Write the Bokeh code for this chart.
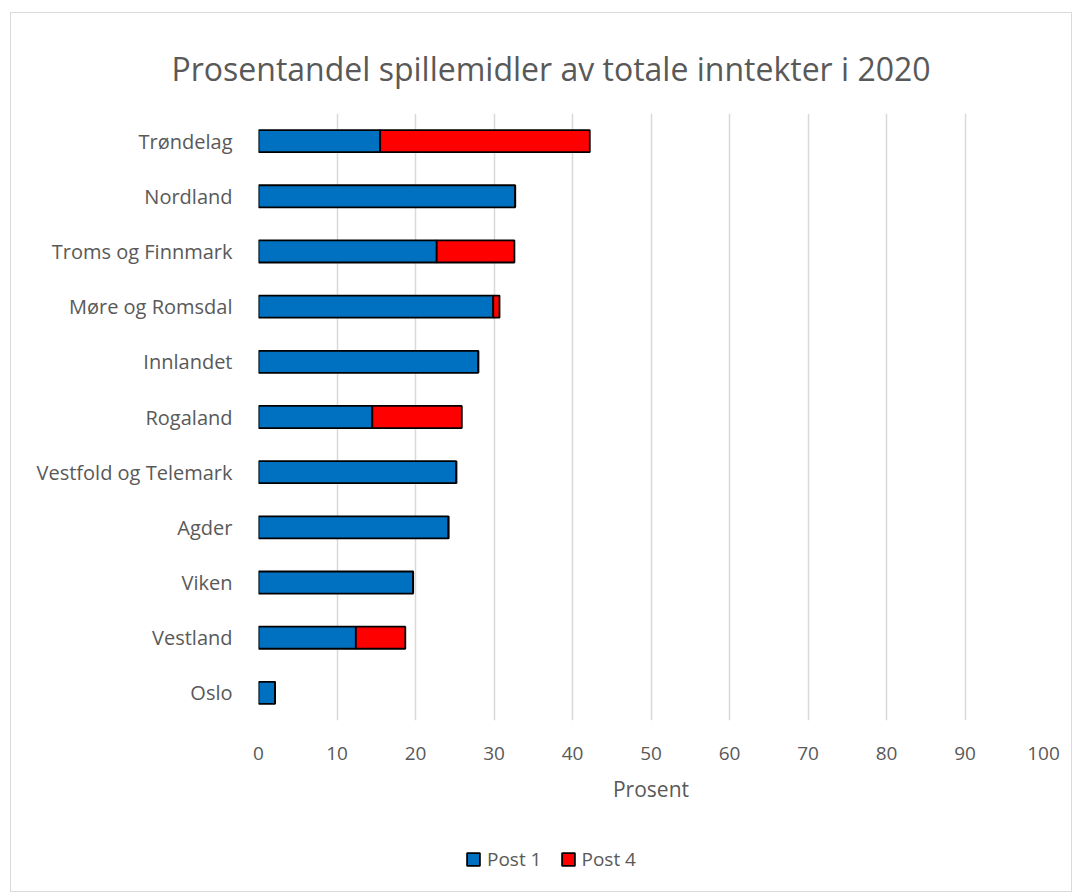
from bokeh.plotting import figure
from bokeh.layouts import column
from bokeh.models import FactorRange, Legend, LegendItem, Range1d, FixedTicker
from bokeh.embed import file_html
from bokeh.resources import INLINE

regions = ["Trøndelag", "Nordland", "Troms og Finnmark", "Møre og Romsdal", "Innlandet",
           "Rogaland", "Vestfold og Telemark", "Agder", "Viken", "Vestland", "Oslo"]
post1 = [15.5, 32.7, 22.7, 29.9, 28.0, 14.5, 25.2, 24.2, 19.7, 12.4, 2.1]
post4 = [26.7, 0.0, 9.9, 0.8, 0.0, 11.4, 0.0, 0.0, 0.0, 6.3, 0.0]
series = ["Post 1", "Post 4"]
colors = ["#0070C0", "#FF0000"]
x_ticks = [0, 10, 20, 30, 40, 50, 60, 70, 80, 90, 100]
title_text = "Prosentandel spillemidler av totale inntekter i 2020"

FONT = "Open Sans"
GREY = "#595959"

data = {"region": regions, "Post 1": post1, "Post 4": post4}

# main chart
p = figure(frame_width=785, frame_height=607, output_backend="svg", toolbar_location=None,
           y_range=FactorRange(factors=list(reversed(regions))),
           x_range=Range1d(0, 100), title=title_text,
           min_border_left=247, min_border_right=28, min_border_top=100, min_border_bottom=0)

p.hbar_stack(series, y="region", height=0.4, source=data,
             fill_color=colors, line_color="black", line_width=1.8)

p.title.align = "left"
p.title.offset = -87
p.title.text_font = FONT
p.title.text_font_size = "32px"
p.title.text_font_style = "normal"
p.title.text_color = GREY
p.title.standoff = 48

p.xaxis.ticker = FixedTicker(ticks=x_ticks)
p.xaxis.axis_label = "Prosent"
p.xaxis.axis_label_text_font = FONT
p.xaxis.axis_label_text_font_size = "21px"
p.xaxis.axis_label_text_font_style = "normal"
p.xaxis.axis_label_text_color = GREY
p.xaxis.axis_label_standoff = 12
for ax in (p.xaxis[0], p.yaxis[0]):
    ax.major_label_text_font = FONT
    ax.major_label_text_color = GREY
    ax.axis_line_color = None
    ax.major_tick_line_color = None
    ax.minor_tick_line_color = None
p.xaxis.major_label_text_font_size = "19px"
p.yaxis.major_label_text_font_size = "20px"
p.xaxis.major_label_standoff = 20
p.yaxis.major_label_standoff = 20

p.xgrid.grid_line_color = "#d9d9d9"
p.xgrid.grid_line_width = 1.5
p.ygrid.grid_line_color = None
p.outline_line_color = None

# legend strip: same series with hidden renderers, so only the legend swatches show
lg = figure(width=1060, height=86, output_backend="svg", toolbar_location=None,
            y_range=FactorRange(factors=list(reversed(regions))),
            x_range=Range1d(0, 100), min_border=0,
            x_axis_location=None, y_axis_location=None)
lg_renderers = lg.hbar_stack(series, y="region", height=0.4, source=data,
                             fill_color=colors, line_color="black", line_width=1.8)
for r in lg_renderers:
    r.visible = False
lg.grid.grid_line_color = None
lg.outline_line_color = None

legend = Legend(items=[LegendItem(label=s, renderers=[r]) for s, r in zip(series, lg_renderers)],
                orientation="horizontal", location=(207, 19),
                label_text_font=FONT, label_text_font_size="19px", label_text_color=GREY,
                glyph_width=16, glyph_height=16, spacing=18, label_standoff=6,
                border_line_color=None, background_fill_alpha=0, padding=0, margin=0,
                click_policy="none", inactive_fill_alpha=0)
lg.add_layout(legend, "center")

layout = column(p, lg, spacing=0)
layout.margin = (12, 0, 0, 10)
layout.styles = {"border": "1px solid #d9d9d9"}

open("out.html", "w").write(file_html(layout, INLINE))
